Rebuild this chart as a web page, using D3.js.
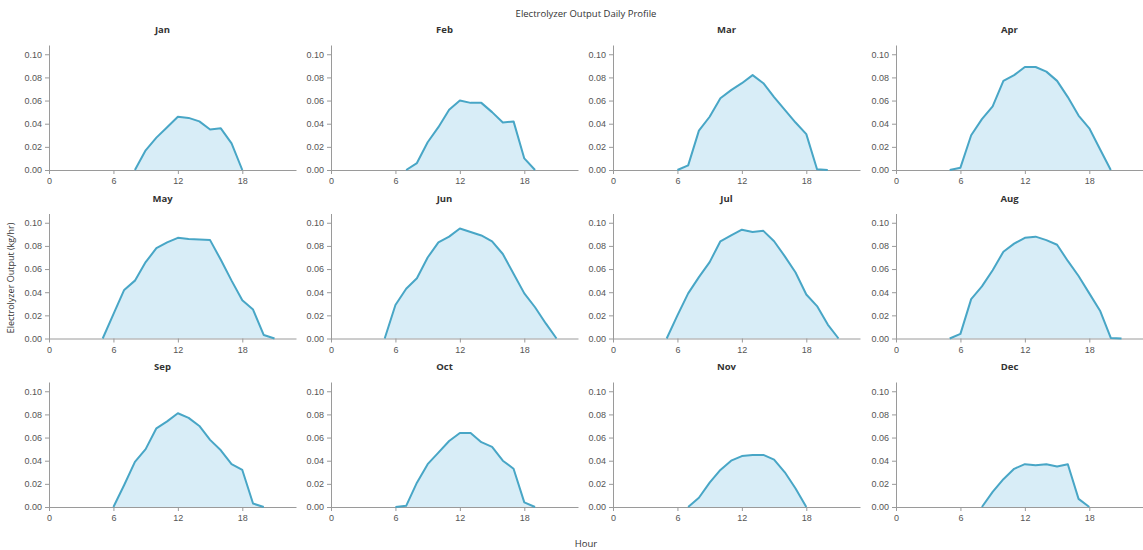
<!DOCTYPE html>
<html>
<head>
<meta charset="utf-8">
<script src="https://cdn.jsdelivr.net/npm/d3@7"></script>
<style>
  html, body { margin: 0; padding: 0; background: #fff; }
  svg { display: block; font-family: "Open Sans", "Noto Sans", sans-serif; }
  .tick text { fill: #555; font-size: 9px; }
  .domain, .tick line { stroke: #9a9a9a; }
</style>
</head>
<body>
<svg id="chart" width="1143" height="550"></svg>
<script>
const months = ["Jan","Feb","Mar","Apr","May","Jun","Jul","Aug","Sep","Oct","Nov","Dec"];
const hours = d3.range(0, 24);
const xTicks = [0, 6, 12, 18];
const yTicks = [0, 0.02, 0.04, 0.06, 0.08, 0.10];

const jan = [0,0,0,0,0,0,0,0,0,0.017,0.028,0.037,0.046,0.045,0.042,0.035,0.036,0.023,0,0,0,0,0,0];
const feb = [0,0,0,0,0,0,0,0,0.006,0.024,0.037,0.052,0.060,0.058,0.058,0.050,0.041,0.042,0.010,0,0,0,0,0];
const mar = [0,0,0,0,0,0,0,0.004,0.034,0.046,0.062,0.069,0.075,0.082,0.075,0.063,0.052,0.041,0.031,0.0006,0,0,0,0];
const apr = [0,0,0,0,0,0,0.002,0.030,0.044,0.055,0.077,0.082,0.089,0.089,0.085,0.077,0.063,0.047,0.036,0.018,0,0,0,0];
const may = [0,0,0,0,0,0,0.021,0.042,0.050,0.066,0.078,0.083,0.087,0.086,0.0855,0.085,0.068,0.050,0.033,0.025,0.003,0,0,0];
const jun = [0,0,0,0,0,0,0.029,0.043,0.052,0.070,0.083,0.088,0.095,0.092,0.089,0.084,0.073,0.056,0.039,0.027,0.013,0,0,0];
const jul = [0,0,0,0,0,0,0.020,0.039,0.053,0.066,0.084,0.089,0.094,0.092,0.093,0.084,0.071,0.057,0.038,0.028,0.012,0,0,0];
const aug = [0,0,0,0,0,0,0.004,0.034,0.045,0.059,0.075,0.082,0.087,0.088,0.085,0.081,0.067,0.054,0.039,0.024,0.0005,0,0,0];
const sep = [0,0,0,0,0,0,0,0.019,0.039,0.050,0.068,0.074,0.081,0.077,0.070,0.058,0.049,0.037,0.032,0.003,0,0,0,0];
const oct = [0,0,0,0,0,0,0,0.001,0.021,0.037,0.047,0.057,0.064,0.064,0.056,0.052,0.040,0.033,0.004,0,0,0,0,0];
const nov = [0,0,0,0,0,0,0,0,0.008,0.021,0.032,0.040,0.044,0.045,0.045,0.041,0.030,0.016,0,0,0,0,0,0];
const dec = [0,0,0,0,0,0,0,0,0,0.013,0.024,0.033,0.037,0.036,0.037,0.035,0.037,0.007,0,0,0,0,0,0];
const series = [jan,feb,mar,apr,may,jun,jul,aug,sep,oct,nov,dec];

const svg = d3.select("#chart");
const colX = [49, 331, 613, 896];
const rowBase = [170, 338.5, 507];
const pw = 247, ph = 125;

const x = d3.scaleLinear().domain([0, 23]).range([0, pw]);
const y = d3.scaleLinear().domain([0, 0.108]).range([ph, 0]);

const active = (d, i, arr) => d > 0 || arr[i - 1] > 0 || arr[i + 1] > 0;
const area = d3.area().x((d, i) => x(hours[i])).y0(y(0)).y1(d => y(d));
const line = d3.line().defined(active).x((d, i) => x(hours[i])).y(d => y(d));

svg.append("text").attr("x", 586).attr("y", 17).attr("text-anchor", "middle")
  .attr("font-size", "9.5px").attr("fill", "#333").text("Electrolyzer Output Daily Profile");

months.forEach((m, k) => {
  const c = k % 4, r = Math.floor(k / 4);
  const g = svg.append("g").attr("transform", `translate(${colX[c]},${rowBase[r] - ph})`);
  g.append("text").attr("x", (pw - 20) / 2).attr("y", -12).attr("text-anchor", "middle")
    .attr("font-size", "9.5px").attr("font-weight", "bold").attr("fill", "#333").text(m);
  g.append("path").datum(series[k]).attr("d", area).attr("fill", "#d8edf7");
  g.append("g").attr("transform", `translate(0,${ph})`)
    .call(d3.axisBottom(x).tickValues(xTicks).tickSize(4).tickSizeOuter(0).tickPadding(4));
  g.append("g")
    .call(d3.axisLeft(y).tickValues(yTicks).tickFormat(d3.format(".2f")).tickSize(4).tickSizeOuter(0).tickPadding(3));
  g.append("path").datum(series[k]).attr("d", line).attr("fill", "none")
    .attr("stroke", "#48a6c6").attr("stroke-width", 2).attr("stroke-linejoin", "round");
});

svg.append("text").attr("transform", "translate(14,278) rotate(-90)").attr("text-anchor", "middle")
  .attr("font-size", "9px").attr("fill", "#333").text("Electrolyzer Output (kg/hr)");
svg.append("text").attr("x", 586).attr("y", 547).attr("text-anchor", "middle")
  .attr("font-size", "9.5px").attr("fill", "#333").text("Hour");
</script>
</body>
</html>
